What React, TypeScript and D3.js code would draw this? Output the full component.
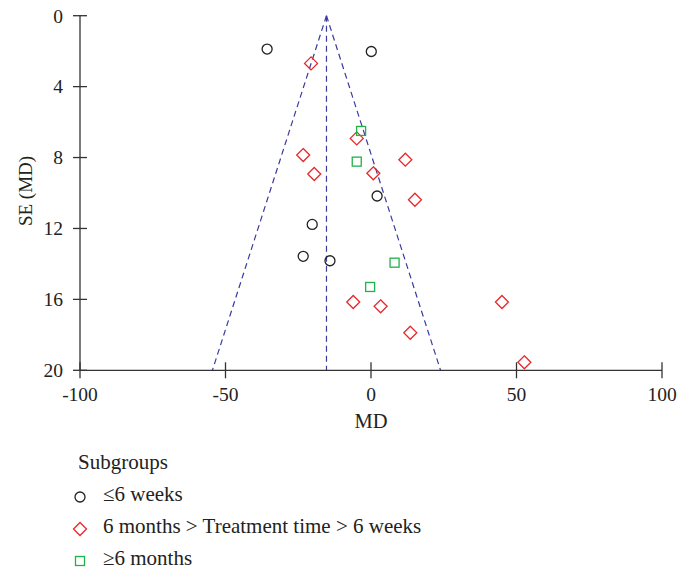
import React from 'react'
import * as d3 from 'd3'

// ≤6 weeks
const shortMD = [-35.7, 0.1, 2.1, -20.2, -23.3, -14.1]
const shortSE = [1.88, 2.02, 10.17, 11.77, 13.57, 13.82]

// 6 months > Treatment time > 6 weeks
const midMD = [-20.6, -23.3, -19.5, -4.9, 11.8, 0.8, 15.1, -6.1, 3.3, 13.5, 45.0, 52.7]
const midSE = [2.69, 7.86, 8.93, 6.92, 8.12, 8.89, 10.38, 16.15, 16.39, 17.88, 16.15, 19.55]

// ≥6 months
const longMD = [-3.4, -4.9, 8.1, -0.3]
const longSE = [6.5, 8.23, 13.93, 15.3]

const pooledMD = -15.3
const maxSE = 20
const xTicks = [-100, -50, 0, 50, 100]
const yTicks = [0, 4, 8, 12, 16, 20]
const legendLabels = ['≤6 weeks', '6 months > Treatment time > 6 weeks', '≥6 months']

const font = '"Liberation Serif", "Times New Roman", serif'
const axisColor = '#333'
const funnelColor = '#3a3aa0'
const colors = ['#222', '#e8282b', '#1fb24a']

const width = 677
const height = 571

const App = () => {
  const x = d3.scaleLinear().domain([-100, 100]).range([80, 662])
  const y = d3.scaleLinear().domain([0, 20]).range([15.7, 370.3])

  const line = d3
    .line<[number, number]>()
    .x((d) => x(d[0]))
    .y((d) => y(d[1]))

  const leftEdge: [number, number][] = [
    [pooledMD, 0],
    [pooledMD - 1.96 * maxSE, maxSE],
  ]
  const rightEdge: [number, number][] = [
    [pooledMD, 0],
    [pooledMD + 1.96 * maxSE, maxSE],
  ]
  const midLine: [number, number][] = [
    [pooledMD, 0],
    [pooledMD, maxSE],
  ]

  const diamond = (cx: number, cy: number, r: number) =>
    `M${cx},${cy - r}L${cx + r},${cy}L${cx},${cy + r}L${cx - r},${cy}Z`

  const circle = (cx: number, cy: number, key: any) => (
    <circle key={key} cx={cx} cy={cy} r={5} fill="none" stroke={colors[0]} strokeWidth={1.3} />
  )
  const rhombus = (cx: number, cy: number, key: any) => (
    <path key={key} d={diamond(cx, cy, 6.5)} fill="none" stroke={colors[1]} strokeWidth={1.3} />
  )
  const square = (cx: number, cy: number, key: any) => (
    <rect key={key} x={cx - 4.5} y={cy - 4.5} width={9} height={9} fill="none" stroke={colors[2]} strokeWidth={1.3} />
  )
  const markers = [circle, rhombus, square]

  return (
    <svg width={width} height={height} style={{ position: 'absolute', left: 0, top: 0, background: '#fff' }} fontFamily={font}>
      {/* funnel */}
      <g fill="none" stroke={funnelColor} strokeWidth={1.2} strokeDasharray="6,4">
        <path d={line(leftEdge) ?? ''} />
        <path d={line(rightEdge) ?? ''} />
        <path d={line(midLine) ?? ''} />
      </g>

      {/* y axis */}
      <line x1={x(-100)} x2={x(-100)} y1={y(0)} y2={y(20)} stroke={axisColor} strokeWidth={1.3} />
      {yTicks.map((t) => (
        <g key={t}>
          <line x1={x(-100) - 7} x2={x(-100) + 7} y1={y(t)} y2={y(t)} stroke={axisColor} strokeWidth={1.3} />
          <text x={63} y={y(t)} dy="0.35em" textAnchor="end" fontSize={19.5} fill="#222">
            {t}
          </text>
        </g>
      ))}
      <text transform={`translate(32, 191) rotate(-90)`} textAnchor="middle" fontSize={19} fill="#222">
        SE (MD)
      </text>

      {/* x axis */}
      <line x1={x(-100)} x2={x(100)} y1={y(20)} y2={y(20)} stroke={axisColor} strokeWidth={1.3} />
      {xTicks.map((t) => (
        <g key={t}>
          <line x1={x(t)} x2={x(t)} y1={y(20) - 8} y2={y(20) + 8} stroke={axisColor} strokeWidth={1.3} />
          <text x={x(t)} y={401} textAnchor="middle" fontSize={19.5} fill="#222">
            {t}
          </text>
        </g>
      ))}
      <text x={x(0)} y={428} textAnchor="middle" fontSize={20.5} fill="#222">
        MD
      </text>

      {/* points */}
      <g>{shortMD.map((d, i) => circle(x(d), y(shortSE[i]), i))}</g>
      <g>{midMD.map((d, i) => rhombus(x(d), y(midSE[i]), i))}</g>
      <g>{longMD.map((d, i) => square(x(d), y(longSE[i]), i))}</g>

      {/* legend */}
      <text x={78} y={469} fontSize={21} fill="#222">
        Subgroups
      </text>
      {legendLabels.map((label, i) => (
        <g key={label}>
          {markers[i](80, 497 + i * 32, 'm')}
          <text x={103} y={501 + i * 32} fontSize={21} fill="#222">
            {label}
          </text>
        </g>
      ))}
    </svg>
  )
}

export default App
